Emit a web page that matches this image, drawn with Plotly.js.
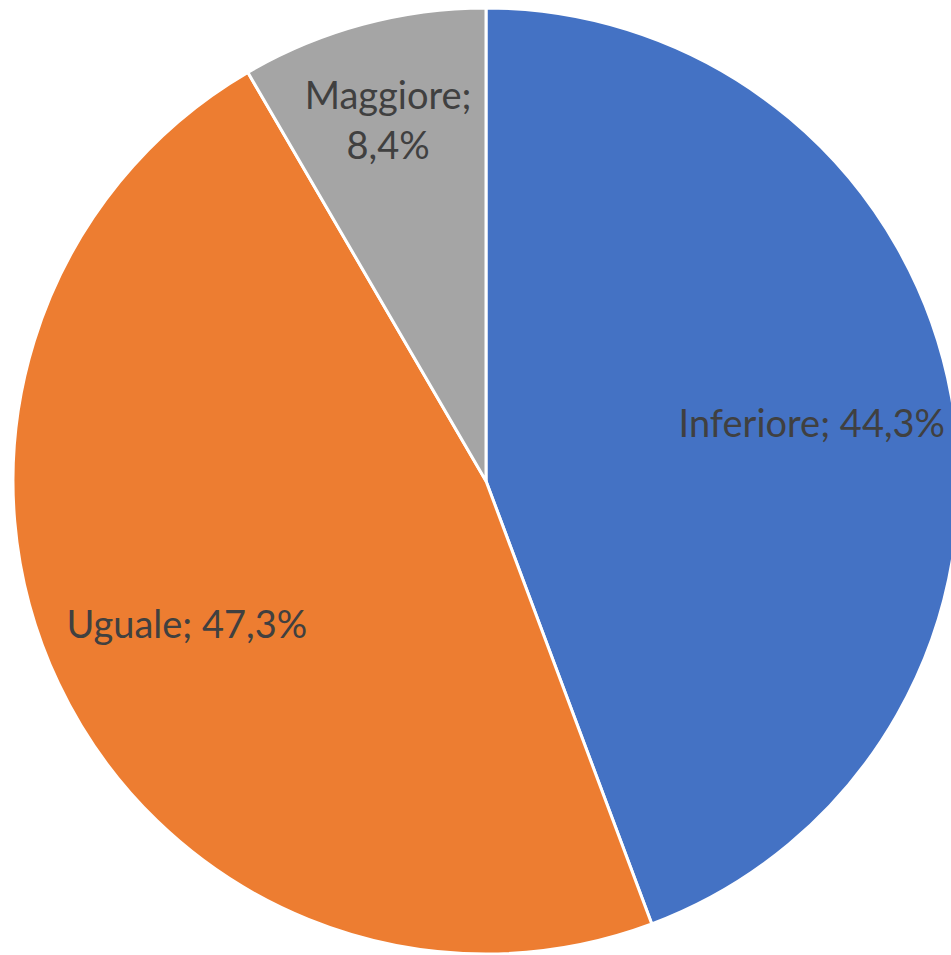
<!DOCTYPE html>
<html><head><meta charset="utf-8">
<script src="https://cdn.plot.ly/plotly-3.0.1.min.js"></script>
<style>html,body{margin:0;padding:0;overflow:hidden;background:#fff;}#chart{width:980px;height:955px;}</style>
</head><body><div id="chart"></div>
<script>
const labels = ["Inferiore", "Uguale", "Maggiore"];
const values = [44.3, 47.3, 8.4];
const colors = ["#4472C4", "#ED7D31", "#A5A5A5"];
const textLabels = ["Inferiore; 44,3%", "Uguale; 47,3%", "Maggiore;<br>8,4%"];

const W = 980, H = 955;
const cx = 486, cy = 481, r = 473;
const dom = {x: [(cx - r) / W, (cx + r) / W], y: [(H - cy - r) / H, (H - cy + r) / H]};
const common = {
  type: "pie", labels: labels, values: values, sort: false,
  direction: "clockwise", rotation: 0, hoverinfo: "none", domain: dom
};
Plotly.newPlot("chart", [
  Object.assign({}, common, {
    textinfo: "none",
    marker: {colors: colors, line: {color: "#ffffff", width: 3}}
  }),
  Object.assign({}, common, {
    hole: 0.4,
    text: textLabels,
    textinfo: "text",
    textposition: "inside",
    insidetextorientation: "horizontal",
    textfont: {family: "Lato, 'Open Sans', sans-serif", size: 38, color: "#404040"},
    marker: {colors: ["rgba(0,0,0,0)", "rgba(0,0,0,0)", "rgba(0,0,0,0)"], line: {width: 0}}
  })
], {
  width: W, height: H,
  margin: {l: 0, r: 0, t: 0, b: 0},
  showlegend: false,
  separators: ",.",
  paper_bgcolor: "#ffffff"
}, {staticPlot: true});
</script></body></html>
